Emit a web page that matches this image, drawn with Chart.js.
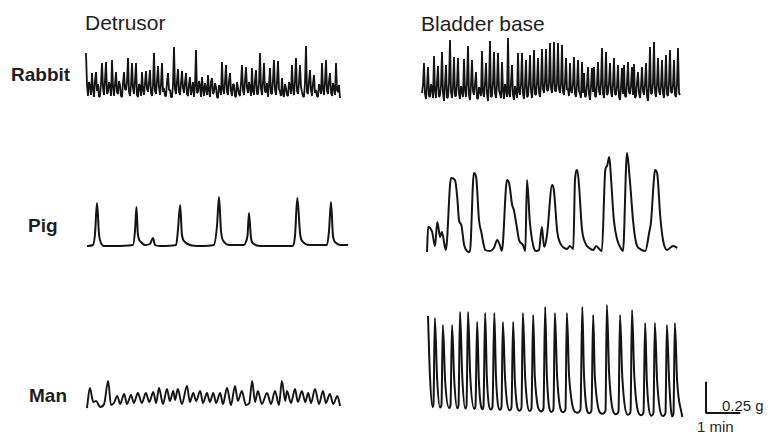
<!DOCTYPE html>
<html>
<head>
<meta charset="utf-8">
<script src="https://cdn.jsdelivr.net/npm/chart.js@4.4.1/dist/chart.umd.min.js"></script>
<style>
  html, body { margin: 0; padding: 0; background: #fff; }
  #fig { position: relative; width: 771px; height: 435px; overflow: hidden;
         font-family: "Liberation Sans", Arial, sans-serif; color: #1e1e1e; }
  #fig canvas { position: absolute; }
  .lbl { position: absolute; white-space: nowrap; line-height: 1; }
  .col { font-size: 21px; }
  .row { font-size: 19px; font-weight: bold; }
  .bar { font-size: 15px; }
</style>
</head>
<body>
<div id="fig">
  <div class="lbl col" style="left:85px;top:12px">Detrusor</div>
  <div class="lbl col" style="left:421px;top:13px">Bladder base</div>
  <div class="lbl row" style="left:11px;top:65px">Rabbit</div>
  <div class="lbl row" style="left:28px;top:216px">Pig</div>
  <div class="lbl row" style="left:29px;top:386px">Man</div>
  <div class="lbl bar" style="left:722px;top:398px">0.25 g</div>
  <div class="lbl bar" style="left:697px;top:419px">1 min</div>
</div>
<script>
// recording scale, taken from the calibration bar (1 min ~ 34 px, 0.25 g ~ 31 px)
const SEC_PER_PX = 1.75;
const MG_PER_PX = 8;
const INK = '#141414';

// Rabbit strips: evenly sampled, one value every 1.75 s, tension in mg above rest
const RABBIT_DT = 1.75;
const rabbitDetrusor = [
  352, 96, 8, 120, 88, 16, 192, 64, 0, 128, 200, 48, 104, 0, 8, 112, 272, 72, 16, 136,
  280, 24, 40, 120, 88, 8, 296, 80, 8, 104, 200, 40, 24, 128, 96, 8, 0, 112, 200, 64,
  56, 120, 312, 40, 8, 96, 272, 72, 24, 128, 272, 16, 0, 104, 88, 8, 200, 56, 16, 112,
  208, 64, 40, 120, 216, 32, 8, 96, 352, 48, 24, 128, 248, 80, 16, 104, 272, 40, 72, 8,
  8, 120, 192, 56, 56, 0, 0, 96, 400, 64, 24, 128, 224, 40, 16, 112, 208, 72, 32, 120,
  192, 24, 8, 104, 160, 16, 56, 120, 0, 88, 376, 32, 40, 128, 88, 0, 160, 64, 8, 112,
  72, 16, 176, 48, 0, 120, 152, 24, 40, 112, 80, 0, -8, 96, 72, 16, 280, 64, 24, 120,
  256, 40, 16, 128, 192, 48, 8, 104, 96, 8, 0, 120, 72, 24, 8, 112, 256, 56, 16, 128,
  240, 72, 32, 120, 72, 8, 232, 48, 16, 128, 216, 24, 24, 112, 352, 64, 16, 120, 272, 40,
  40, 112, 0, 96, 232, 32, 24, 136, 296, 56, 16, 120, 288, 64, 40, 8, 152, 24, 0, 104,
  72, 16, 8, 120, 88, 24, 256, 72, 16, 128, 312, 48, 24, 112, 256, 80, 40, 8, 0, 120,
  408, 40, 24, 128, 216, 56, 8, 112, 176, 32, 56, 8, 0, 104, 72, 24, 272, 64, 16, 120,
  296, 48, 24, 128, 192, 40, 8, 112, 72, 16, 272, 56, 40, 96, -8
];
const rabbitBladderBase = [
  48, 112, 288, 40, 0, 96, 256, 24, 16, 120, 80, 8, 344, 64, 8, 128, 264, 16, 32, 104,
  376, 48, -16, 112, 272, 8, 16, 128, 472, 56, 8, 96, 336, 24, 24, 120, 328, 40, 0, 104,
  64, 16, 320, 72, 16, 128, 424, 32, -8, 112, 312, 64, 32, 120, 216, 8, 0, 96, 64, 24,
  384, 56, 16, 120, 288, 40, -16, 104, 464, 16, 24, 128, 376, 48, 8, 112, 368, 72, 40, 8,
  296, 64, 0, 120, 80, 16, 488, 48, 16, 128, 272, 32, -8, 104, 64, 8, 368, 56, 32, 120,
  368, 40, 0, 112, 312, 16, 24, 128, 352, 64, 8, 104, 392, 40, 32, 128, 328, 56, 16, 120,
  400, 80, 48, 136, 400, 72, 64, 128, 448, 88, 48, 136, 456, 64, 64, 128, 448, 80, 48, 120,
  432, 56, 32, 128, 328, 72, 80, 24, 288, 64, 48, 120, 336, 40, 16, 112, 312, 64, 40, 8,
  296, 48, 208, 16, 24, 112, 256, 40, -8, 104, 248, 56, 256, 24, 16, 120, 296, 64, 32, 128,
  408, 48, 8, 112, 376, 32, 48, 128, 288, 56, 16, 120, 328, 40, 32, 104, 272, 16, -8, 96,
  248, 40, 272, 24, 16, 120, 296, 56, 40, 112, 256, 32, 280, 8, 24, 128, 216, 48, 8, 104,
  256, 64, 32, 120, 288, 24, -16, 112, 416, 40, 48, 128, 456, 56, 16, 120, 328, 64, 32, 104,
  312, 48, 8, 120, 352, 40, 24, 128, 392, 56, 48, 112, 312, 32, 16, 120, 408, 48, 32
];

// Pig and man strips: time (s) and tension (mg above rest)
const pigDetrusorTime = [
  0, 10.5, 14, 17.5, 21, 24.5, 30, 45.5, 80.5, 84, 86.5, 89, 94.5, 101.5,
  110, 115.5, 119, 128, 156, 159, 163, 166, 171.5, 180, 198,
  222, 227.5, 231, 234.5, 240, 250, 275, 278, 281, 283.5, 287, 292, 303,
  359, 364, 368, 373, 378, 390, 420, 423.5, 427, 430.5, 436, 443, 457
];
const pigDetrusorTension = [
  0, 8, 96, 344, 96, 24, 0, 0, 8, 120, 312, 96, 32, 8,
  16, 64, 8, 0, 8, 120, 328, 96, 32, 8, 0,
  8, 160, 392, 120, 32, 8, 8, 32, 88, 264, 64, 16, 0,
  0, 80, 384, 96, 32, 8, 8, 120, 352, 80, 24, 8, 8
];

const pigBaseTime = [
  0, 2, 9, 14, 18, 23, 26, 33, 42, 49, 53, 56, 60, 65, 70, 75,
  82, 86, 91, 95, 102, 110, 117, 123, 128, 131,
  140, 144, 149, 152, 158, 161, 168, 172, 175, 180, 186, 191, 196,
  201, 205, 210, 219, 222, 228, 233, 238, 245, 250, 256,
  259, 263, 266, 271, 277, 284, 291, 296, 303, 306,
  312, 315, 319, 322, 327, 333, 338, 343, 350, 355, 361, 366, 373, 382,
  389, 392, 397, 399, 403, 408, 413, 420, 425, 431, 438
];
const pigBaseTension = [
  0, 200, 160, 48, 240, 120, 160, 16, 592, 576, 432, 256, 216, 56, 8, 0,
  632, 600, 256, 160, 16, 8, 32, 96, 48, 8,
  576, 544, 376, 336, 176, 96, 56, 8, 576, 240, 48, 8, 16,
  200, 40, 136, 536, 496, 160, 72, 40, 24, 48, 24,
  576, 656, 536, 192, 72, 32, 16, 48, 16, 8,
  656, 688, 760, 592, 256, 96, 40, 8, 792, 576, 232, 72, 24, 8,
  160, 240, 576, 656, 624, 296, 96, 16, 32, 48, 32
];

const manDetrusorTime = [
  0, 5, 11, 16, 23, 30, 37, 42, 47, 53, 58, 65, 70, 77, 82, 89, 96, 103, 109, 116,
  121, 126, 133, 140, 145, 151, 154, 159, 166, 175, 180, 186, 191, 198, 203, 210,
  215, 221, 226, 233, 238, 245, 252, 259, 264, 271, 278, 284, 289, 294,
  299, 306, 315, 322, 329, 336, 341, 347, 350, 357, 364, 369, 376, 382, 387, 392,
  399, 406, 413, 418, 425, 431, 438, 443
];
const manDetrusorTension = [
  -16, 144, 32, 40, -8, 16, 200, 8, 24, 80, 16, 96, 16, 88, 24, 104, 24, 104, 32, 112,
  24, 144, 16, 136, 40, 120, 48, 136, 16, 160, 32, 104, 40, 120, 24, 104,
  32, 104, 24, 104, 16, 144, 8, 160, 40, 120, 8, 24, 200, 32,
  120, 16, 104, 16, 120, 8, 200, 40, 120, 24, 136, 32, 120, 32, 104, 24,
  136, 16, 120, 24, 96, 16, 80, 0
];

// man bladder base: per contraction -> peak, early fall, trough, start of next rise
const manBaseTime = [
  0, 3.5, 8, 9.6, 12, 16, 21, 23.6, 26, 30, 37, 39.4, 42, 46, 51, 53.4,
  56, 60, 65, 67.4, 70, 74, 81, 83.1, 86, 89, 95, 97.1, 100, 103, 110, 112.9,
  116, 119, 126, 128.6, 131, 135, 143, 146.1, 149, 152, 160, 163.6, 166, 170, 178, 181.1,
  184, 187, 198, 202.1, 205, 208, 216, 219.6, 222, 226, 236, 240.6, 243, 247, 261, 266.9,
  270, 273, 282, 286.1, 289, 292, 305, 310.6, 313, 317, 329, 333.4, 336, 340, 350, 354.4,
  357, 361, 373, 377.1, 380, 383, 391, 394.6, 397, 401, 411, 415.6, 418, 422, 427, 429.6,
  432, 436, 445
];
const manBaseTension = [
  808, 320, 80, 104, 792, 304, 76, 100, 736, 288, 72, 96, 736, 288, 70, 94,
  840, 320, 68, 92, 840, 320, 65, 89, 760, 296, 62, 86, 832, 320, 60, 84,
  832, 320, 58, 82, 760, 296, 54, 78, 760, 296, 51, 75, 832, 320, 48, 72,
  816, 320, 45, 69, 880, 336, 41, 65, 832, 320, 38, 62, 832, 320, 34, 58,
  880, 336, 30, 54, 816, 320, 26, 50, 896, 344, 22, 46, 816, 320, 18, 42,
  856, 328, 14, 38, 752, 288, 11, 35, 752, 288, 8, 32, 736, 288, 5, 29,
  752, 288, 0
];

// calibration bar: 0.25 g up, 1 min across
const scaleBarTime = [0, 0, 60];
const scaleBarTension = [250, 0, 0];

const fig = document.getElementById('fig');

function drawTrace(panel, times, values, width, smooth) {
  const pad = 6;
  const cv = document.createElement('canvas');
  cv.width = panel.width + pad * 2;
  cv.height = panel.height + pad * 2;
  cv.style.left = (panel.left - pad) + 'px';
  cv.style.top = (panel.top - pad) + 'px';
  fig.appendChild(cv);
  new Chart(cv, {
    type: 'line',
    data: {
      datasets: [{
        data: times.map((t, i) => ({ x: t, y: values[i] })),
        borderColor: INK,
        borderWidth: width,
        pointRadius: 0,
        tension: 0,
        cubicInterpolationMode: smooth ? 'monotone' : 'default',
        borderJoinStyle: smooth ? 'round' : 'bevel',
        borderCapStyle: 'butt',
        fill: false,
        clip: false
      }]
    },
    options: {
      responsive: false,
      animation: false,
      events: [],
      layout: { padding: pad },
      plugins: { legend: { display: false }, tooltip: { enabled: false } },
      scales: {
        x: { type: 'linear', display: false, min: 0, max: panel.width * SEC_PER_PX },
        y: {
          type: 'linear', display: false,
          min: -(panel.top + panel.height - panel.baseline) * MG_PER_PX,
          max: (panel.baseline - panel.top) * MG_PER_PX
        }
      }
    }
  });
}

const rabbitTimes = arr => arr.map((_, i) => i * RABBIT_DT);

drawTrace({ left: 86, top: 40, width: 254, height: 65, baseline: 97 },
  rabbitTimes(rabbitDetrusor), rabbitDetrusor, 1.8, false);
drawTrace({ left: 422, top: 30, width: 258, height: 78, baseline: 99 },
  rabbitTimes(rabbitBladderBase), rabbitBladderBase, 1.8, false);
drawTrace({ left: 87, top: 190, width: 261, height: 65, baseline: 246 },
  pigDetrusorTime, pigDetrusorTension, 2, true);
drawTrace({ left: 427, top: 140, width: 250, height: 120, baseline: 252 },
  pigBaseTime, pigBaseTension, 2, true);
drawTrace({ left: 87, top: 370, width: 253, height: 45, baseline: 406 },
  manDetrusorTime, manDetrusorTension, 1.9, true);
drawTrace({ left: 428, top: 295, width: 254, height: 130, baseline: 417 },
  manBaseTime, manBaseTension, 2, true);
drawTrace({ left: 706, top: 370, width: 40, height: 50, baseline: 413 },
  scaleBarTime, scaleBarTension, 2, false);
</script>
</body>
</html>
